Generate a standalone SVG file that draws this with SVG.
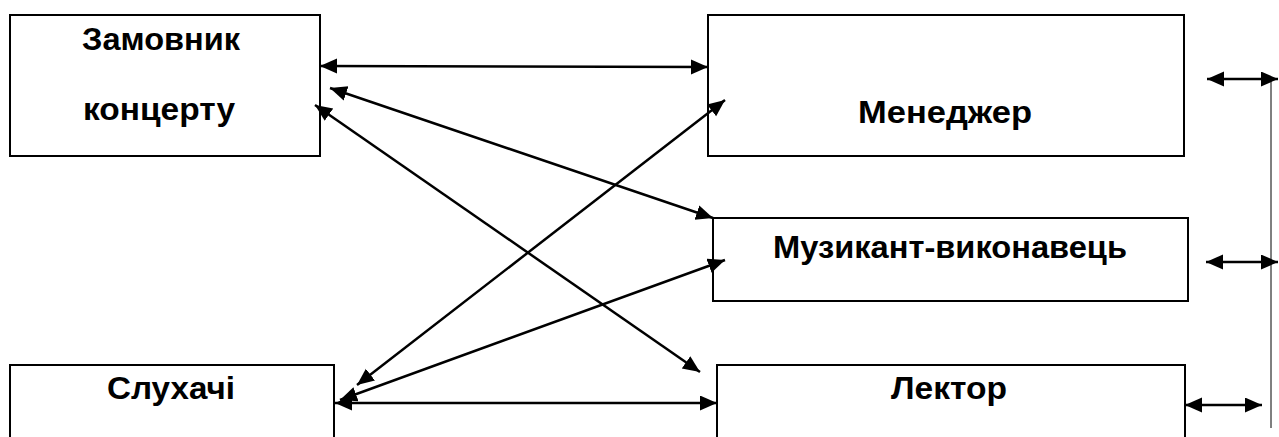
<svg xmlns="http://www.w3.org/2000/svg" width="1279" height="437" viewBox="0 0 1279 437">
  <style>
    .box { fill: #ffffff; stroke: #000000; stroke-width: 2; }
    .lbl { font-family: "Liberation Sans", Arial, sans-serif; font-weight: bold; font-size: 31px; fill: #000000; text-anchor: middle; }
    .link { stroke: #000000; stroke-width: 2.5; fill: none; marker-start: url(#head); marker-end: url(#head); }
    .rail { stroke: #000000; stroke-width: 1; fill: none; }
  </style>
  <defs>
    <marker id="head" markerUnits="userSpaceOnUse" markerWidth="18" markerHeight="16" refX="17" refY="7.5" orient="auto-start-reverse">
      <path d="M0,0 L17,7.5 L0,15 z" fill="#000000"/>
    </marker>
  </defs>
  <rect width="1279" height="437" fill="#ffffff"/>

  <g id="customer">
    <rect class="box" x="10" y="15" width="310" height="141"/>
    <text class="lbl" x="161" y="50" textLength="158" lengthAdjust="spacingAndGlyphs">Замовник</text>
    <text class="lbl" x="159" y="120" textLength="152" lengthAdjust="spacingAndGlyphs">концерту</text>
  </g>

  <g id="manager">
    <rect class="box" x="708" y="15" width="476" height="141"/>
    <text class="lbl" x="945" y="123" textLength="174" lengthAdjust="spacingAndGlyphs">Менеджер</text>
  </g>

  <g id="performer">
    <rect class="box" x="713" y="218" width="475" height="83"/>
    <text class="lbl" x="950" y="258" textLength="354" lengthAdjust="spacingAndGlyphs">Музикант-виконавець</text>
  </g>

  <g id="listeners">
    <rect class="box" x="10" y="365" width="324" height="90"/>
    <text class="lbl" x="171" y="399" textLength="128" lengthAdjust="spacingAndGlyphs">Слухачі</text>
  </g>

  <g id="lecturer">
    <rect class="box" x="717" y="365" width="468" height="90"/>
    <text class="lbl" x="949" y="399" textLength="116" lengthAdjust="spacingAndGlyphs">Лектор</text>
  </g>

  <g id="connectors">
    <line class="link" x1="320" y1="66" x2="708" y2="67"/>
    <line class="link" x1="330" y1="88" x2="713" y2="218"/>
    <line class="link" x1="315" y1="105" x2="700" y2="372"/>
    <line class="link" x1="725" y1="100" x2="357" y2="385"/>
    <line class="link" x1="725" y1="260" x2="340" y2="400"/>
    <line class="link" x1="335" y1="403" x2="717" y2="403"/>
    <line class="link" x1="1207" y1="79" x2="1278" y2="79"/>
    <line class="link" x1="1206" y1="262" x2="1278" y2="262"/>
    <line class="link" x1="1185" y1="405" x2="1262" y2="405"/>
    <line class="rail" x1="1271" y1="80" x2="1271" y2="428"/>
  </g>
</svg>
